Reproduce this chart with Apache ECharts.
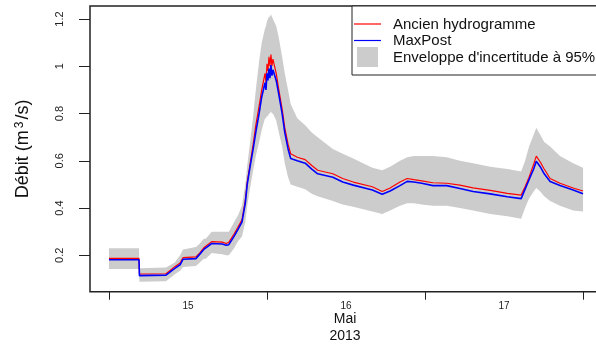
<!DOCTYPE html>
<html><head><meta charset="utf-8">
<script src="https://cdn.jsdelivr.net/npm/echarts@6/dist/echarts.min.js"></script>
<style>html,body{margin:0;padding:0;background:#fff}#c{width:596px;height:347px}</style>
</head><body><div id="c"></div>
<script>
// hours since 15 May 2013 00:00
const hours   = [0, 4.56, 4.63, 8.66, 10.0, 10.8, 11.24, 13.2, 13.8, 14.4, 14.7, 15.6, 17.2, 17.8, 18.2, 19.0, 19.6, 20.2, 20.7, 21.0, 21.4, 21.9, 22.3, 22.8, 23.2, 23.7, 23.85, 24.0, 24.15, 24.3, 24.45, 24.6, 24.75, 24.9, 25.4, 25.8, 26.3, 26.7, 27.2, 27.6, 28.6, 29.8, 30.8, 31.7, 34.0, 35.5, 37.1, 40.0, 41.5, 42.7, 44.2, 45.3, 46.3, 47.5, 49.2, 51.3, 53.3, 55.3, 57.9, 60.5, 62.6, 63.2, 63.8, 64.5, 64.9, 65.5, 66.1, 67.0, 68.5, 70.5, 72.0];
const ancien  = [0.187, 0.187, 0.121, 0.122, 0.152, 0.167, 0.19, 0.193, 0.21, 0.232, 0.225, 0.258, 0.256, 0.25, 0.255, 0.29, 0.32, 0.35, 0.43, 0.51, 0.58, 0.67, 0.75, 0.83, 0.9, 0.97, 0.93, 1.01, 0.98, 1.04, 1.0, 1.05, 1.0, 1.03, 0.97, 0.9, 0.82, 0.74, 0.67, 0.63, 0.615, 0.605, 0.58, 0.56, 0.545, 0.525, 0.51, 0.49, 0.47, 0.485, 0.51, 0.525, 0.52, 0.515, 0.507, 0.505, 0.497, 0.485, 0.475, 0.462, 0.455, 0.49, 0.53, 0.585, 0.62, 0.595, 0.565, 0.525, 0.505, 0.485, 0.472];
const maxpost = [0.181, 0.181, 0.114, 0.116, 0.145, 0.16, 0.183, 0.186, 0.205, 0.225, 0.218, 0.25, 0.248, 0.243, 0.245, 0.28, 0.31, 0.34, 0.42, 0.5, 0.57, 0.65, 0.72, 0.8, 0.87, 0.93, 0.9, 0.97, 0.94, 0.99, 0.95, 1.005, 0.96, 0.985, 0.94, 0.88, 0.8, 0.72, 0.65, 0.61, 0.6, 0.59, 0.565, 0.545, 0.53, 0.51, 0.497, 0.476, 0.458, 0.472, 0.495, 0.513, 0.51, 0.505, 0.495, 0.495, 0.483, 0.47, 0.46, 0.448, 0.44, 0.48, 0.52, 0.565, 0.598, 0.575, 0.545, 0.512, 0.495, 0.476, 0.46];
const envLow  = [0.142, 0.142, 0.088, 0.09, 0.12, 0.135, 0.15, 0.155, 0.17, 0.185, 0.185, 0.21, 0.205, 0.2, 0.2, 0.23, 0.26, 0.28, 0.34, 0.41, 0.48, 0.56, 0.62, 0.68, 0.73, 0.78, 0.78, 0.79, 0.79, 0.8, 0.8, 0.81, 0.8, 0.8, 0.77, 0.72, 0.66, 0.59, 0.53, 0.5, 0.49, 0.48, 0.46, 0.45, 0.43, 0.415, 0.405, 0.385, 0.375, 0.39, 0.41, 0.42, 0.42, 0.415, 0.41, 0.41, 0.4, 0.39, 0.375, 0.365, 0.355, 0.4, 0.44, 0.47, 0.485, 0.47, 0.45, 0.43, 0.41, 0.39, 0.385];
const envHigh = [0.23, 0.23, 0.145, 0.148, 0.17, 0.2, 0.225, 0.235, 0.25, 0.27, 0.27, 0.3, 0.3, 0.3, 0.3, 0.34, 0.37, 0.41, 0.5, 0.58, 0.67, 0.79, 0.9, 1.02, 1.1, 1.16, 1.17, 1.19, 1.2, 1.21, 1.21, 1.22, 1.21, 1.2, 1.17, 1.12, 1.04, 0.97, 0.9, 0.84, 0.78, 0.75, 0.72, 0.7, 0.65, 0.63, 0.61, 0.57, 0.56, 0.575, 0.6, 0.615, 0.62, 0.62, 0.62, 0.615, 0.6, 0.59, 0.575, 0.565, 0.555, 0.6, 0.66, 0.71, 0.74, 0.71, 0.68, 0.66, 0.62, 0.59, 0.57];
const yTicks = [0.2, 0.4, 0.6, 0.8, 1, 1.2];
const dayTicks = [0, 24, 48, 72];
const dayLabelPos = [12, 36, 60];
const dayLabels = ['15', '16', '17'];
const monthLabel = 'Mai';
const yearLabel = '2013';
const legendNames = ['Ancien hydrogramme', 'MaxPost', "Enveloppe d'incertitude à 95%"];

const pair = (ys) => hours.map((h, i) => [h, ys[i]]);
const bandData = hours.map((h, i) => [h, envLow[i], envHigh[i]]);

const chart = echarts.init(document.getElementById('c'), null, {renderer: 'canvas'});
const font = 'Liberation Sans, Arial, sans-serif';
chart.setOption({
  animation: false,
  textStyle: {fontFamily: font},
  grid: {left: 90, top: 6, width: 512, height: 285.7, outerBoundsMode: 'none', containLabel: false, show: true, borderColor: '#222', borderWidth: 1.5, backgroundColor: 'transparent'},
  xAxis: {
    type: 'value', min: -2.88, max: 74.88,
    splitLine: {show: false},
    axisLine: {show: false, onZero: false},
    axisTick: {show: true, customValues: dayTicks, length: 8, lineStyle: {color: '#222', width: 1}},
    axisLabel: {customValues: dayLabelPos, formatter: v => dayLabels[dayLabelPos.indexOf(v)], fontSize: 10, color: '#222', margin: 10, fontFamily: font}
  },
  yAxis: {
    type: 'value', min: 0.046, max: 1.255,
    splitLine: {show: false},
    axisLine: {show: false, onZero: false},
    axisTick: {show: true, customValues: yTicks, length: 11, lineStyle: {color: '#222', width: 1}},
    axisLabel: {customValues: yTicks, rotate: 90, fontSize: 11, color: '#222', margin: 25, fontFamily: font},
    name: 'Débit (m{sup|3}/s)',
    nameLocation: 'middle', nameRotate: 90, nameGap: 58,
    nameTextStyle: {fontSize: 18, color: '#111', fontFamily: font, rich: {sup: {fontSize: 12, verticalAlign: 'top', lineHeight: 12, padding: [0, 2, 10, 2]}}}
  },
  series: [
    {
      type: 'custom', data: bandData, silent: true, z: 1,
      renderItem: (params, api) => {
        if (params.dataIndex !== 0) return null;
        const up = bandData.map(d => api.coord([d[0], d[2]]));
        const lo = bandData.map(d => api.coord([d[0], d[1]])).reverse();
        return {type: 'polygon', shape: {points: up.concat(lo)}, style: {fill: '#cccccc', stroke: null}};
      }
    },
    {type: 'line', name: legendNames[0], data: pair(ancien), symbol: 'none', z: 2, lineStyle: {color: '#ff0000', width: 1.2}},
    {type: 'line', name: legendNames[1], data: pair(maxpost), symbol: 'none', z: 3, lineStyle: {color: '#0000ff', width: 1.6}}
  ],
  graphic: [
    {type: 'rect', z: 100, shape: {x: 352, y: 6, width: 260, height: 69}, style: {fill: '#fff', stroke: '#222', lineWidth: 1}},
    {type: 'line', z: 101, shape: {x1: 354, y1: 24, x2: 381, y2: 24}, style: {stroke: '#ff0000', lineWidth: 1.2}},
    {type: 'line', z: 101, shape: {x1: 354, y1: 40.5, x2: 381, y2: 40.5}, style: {stroke: '#0000ff', lineWidth: 1.2}},
    {type: 'rect', z: 101, shape: {x: 357, y: 47, width: 21, height: 20}, style: {fill: '#cccccc'}},
    {type: 'text', z: 101, x: 393, y: 24.5, style: {text: legendNames[0], font: '15px ' + font, fill: '#111', verticalAlign: 'middle'}},
    {type: 'text', z: 101, x: 393, y: 41, style: {text: legendNames[1], font: '15px ' + font, fill: '#111', verticalAlign: 'middle'}},
    {type: 'text', z: 101, x: 393, y: 58, style: {text: legendNames[2], font: '15px ' + font, fill: '#111', verticalAlign: 'middle'}},
    {type: 'text', z: 101, x: 345, y: 319, style: {text: monthLabel, font: '14px ' + font, fill: '#111', align: 'center', verticalAlign: 'middle'}},
    {type: 'text', z: 101, x: 345, y: 336, style: {text: yearLabel, font: '14px ' + font, fill: '#111', align: 'center', verticalAlign: 'middle'}}
  ]
});
</script></body></html>
